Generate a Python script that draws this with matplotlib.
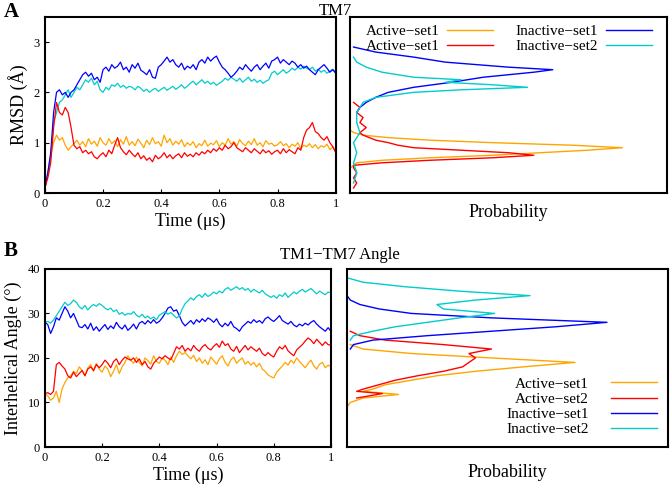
import numpy as np
import matplotlib
matplotlib.use("Agg")
import matplotlib.pyplot as plt

plt.rcParams['font.family'] = ['Liberation Serif', 'DejaVu Serif']
plt.rcParams['mathtext.fontset'] = 'stix'

time = np.linspace(0, 1, 101)

rmsd_act1 = [0.10,0.40,0.75,1.00,1.15,1.05,1.10,0.95,0.85,0.92,
0.98,1.05,0.95,1.02,0.92,1.08,0.97,1.03,0.93,1.10,
1.00,0.95,1.08,0.98,1.04,0.92,1.06,0.97,1.12,0.95,
1.02,0.94,1.07,0.99,0.90,1.05,0.96,1.10,0.98,1.02,
0.93,1.15,1.00,1.08,0.95,1.03,0.97,1.06,0.92,1.00,
0.95,1.02,0.90,0.98,0.94,1.05,0.93,0.99,0.96,1.04,
0.92,1.00,0.95,1.08,0.97,1.02,0.93,1.06,0.98,0.94,
1.03,0.96,1.08,0.95,1.00,0.92,1.04,0.97,0.99,0.93,
0.96,1.02,0.94,0.98,0.90,0.97,0.93,1.00,0.88,0.95,
0.92,0.98,0.90,0.96,0.88,0.94,0.91,0.97,0.86,0.92,0.85]
rmsd_act2 = [0.10,0.30,0.60,1.30,1.80,1.60,1.55,1.70,1.60,1.30,
0.95,0.88,0.92,0.80,0.85,0.78,0.82,0.72,0.68,0.75,
0.80,0.72,0.85,0.78,0.95,1.10,0.90,0.82,0.76,0.85,
0.78,0.72,0.80,0.68,0.74,0.65,0.70,0.62,0.75,0.68,
0.72,0.80,0.70,0.76,0.68,0.74,0.78,0.70,0.80,0.73,
0.77,0.72,0.80,0.75,0.82,0.78,0.85,0.80,0.88,0.83,
0.90,0.85,0.95,0.88,0.92,1.00,0.90,0.86,0.82,0.90,
0.85,0.80,0.88,0.83,0.78,0.86,0.80,0.84,0.77,0.82,
0.85,0.78,0.88,0.80,0.86,0.82,0.78,0.90,0.85,1.10,
1.25,1.30,1.40,1.22,1.18,1.10,1.05,1.12,1.00,0.92,0.80]
rmsd_inact1 = [0.10,0.40,0.80,1.60,2.00,2.05,1.95,2.00,1.90,2.00,
2.05,2.15,2.25,2.35,2.40,2.32,2.38,2.25,2.30,2.20,
2.45,2.50,2.42,2.55,2.48,2.52,2.60,2.45,2.50,2.40,
2.55,2.48,2.58,2.44,2.40,2.35,2.45,2.30,2.28,2.50,
2.55,2.62,2.70,2.60,2.65,2.55,2.50,2.58,2.45,2.52,
2.48,2.55,2.45,2.60,2.65,2.58,2.70,2.62,2.68,2.72,
2.60,2.50,2.45,2.38,2.30,2.35,2.42,2.50,2.45,2.55,
2.48,2.42,2.50,2.55,2.45,2.52,2.58,2.48,2.62,2.65,
2.70,2.58,2.65,2.60,2.55,2.62,2.58,2.50,2.55,2.48,
2.52,2.45,2.40,2.35,2.45,2.50,2.55,2.48,2.40,2.45,2.38]
rmsd_inact2 = [0.10,0.35,0.70,1.40,1.60,1.80,1.85,1.95,2.05,1.90,
2.00,2.10,2.05,2.15,2.25,2.20,2.28,2.15,2.22,2.05,
2.00,2.10,2.05,2.15,2.12,2.18,2.10,2.14,2.08,2.12,
2.10,2.05,2.12,2.08,2.02,2.06,2.00,2.05,2.08,2.02,
2.06,2.10,2.04,2.08,2.12,2.06,2.10,2.15,2.08,2.12,
2.18,2.22,2.15,2.20,2.25,2.18,2.22,2.16,2.20,2.14,
2.18,2.22,2.28,2.24,2.30,2.26,2.22,2.28,2.20,2.25,
2.30,2.22,2.26,2.20,2.24,2.18,2.22,2.25,2.38,2.42,
2.35,2.40,2.45,2.38,2.42,2.48,2.44,2.50,2.46,2.52,
2.48,2.45,2.50,2.42,2.46,2.40,2.44,2.38,2.42,2.46,2.40]

ang_act1 = [12.0,11.5,10.5,11.0,12.5,10.0,13.0,14.5,15.5,16.0,
17.0,16.5,18.0,17.2,16.0,17.8,18.5,17.0,18.8,17.5,
16.8,18.2,17.5,15.8,17.0,18.5,16.5,18.0,19.0,20.5,
19.5,18.8,20.2,19.0,18.2,20.0,19.4,18.6,20.5,19.2,
18.8,20.0,19.5,18.5,20.2,19.0,20.5,21.5,20.8,21.2,
20.5,19.8,20.6,19.2,20.0,18.8,19.6,18.5,20.2,19.4,
18.6,19.8,20.5,19.0,18.2,19.6,20.2,18.8,19.5,20.0,
18.6,19.2,18.4,19.0,18.0,18.8,17.5,17.0,16.2,15.8,
15.5,16.8,17.5,18.2,19.0,18.4,19.5,18.8,20.0,19.2,
18.5,17.8,18.8,19.5,18.2,17.5,18.6,19.0,17.8,18.4,18.0]
ang_act2 = [12.0,12.2,11.8,12.5,18.5,19.0,18.2,17.5,16.0,15.5,
16.8,15.8,16.5,17.2,16.0,17.5,18.0,17.2,18.5,17.8,
18.5,19.5,18.8,17.8,19.2,19.8,18.5,19.5,20.2,19.8,
19.5,20.0,19.0,19.8,18.5,19.2,18.0,17.5,18.8,19.5,
20.2,19.8,20.5,20.0,19.6,21.0,22.5,22.0,22.8,21.5,
22.2,21.6,22.8,22.0,21.5,22.5,23.0,22.2,21.8,22.6,
23.2,22.4,23.8,22.8,23.2,22.0,21.5,22.6,21.2,22.0,
22.8,21.8,22.5,22.0,21.5,22.2,21.0,20.5,21.2,20.6,
20.2,21.5,22.5,22.0,22.8,21.6,21.0,20.5,21.8,22.4,
23.0,23.8,24.5,24.0,23.2,24.2,23.5,22.8,23.6,23.0,22.8]
ang_inact1 = [28.0,27.5,25.5,27.0,29.0,28.5,30.0,31.5,30.5,29.0,
30.0,28.5,27.0,26.8,27.5,26.5,27.8,26.2,27.0,26.0,
26.8,27.5,26.4,27.2,26.6,28.0,27.0,26.5,27.4,26.2,
26.8,27.6,26.5,27.8,28.2,27.6,28.4,27.8,28.6,27.8,
28.2,29.0,30.0,31.2,31.5,30.5,30.8,29.5,28.0,27.2,
27.8,28.4,27.6,28.6,28.0,28.8,28.2,29.0,28.6,28.0,
28.8,27.6,27.0,27.8,27.2,28.2,27.0,26.6,26.0,27.0,
27.6,28.2,27.8,28.6,28.0,28.4,27.8,28.8,29.2,28.6,
28.2,28.8,29.5,28.4,28.0,27.6,28.2,27.4,27.0,27.6,
27.2,27.8,27.4,28.0,28.4,27.6,27.0,26.5,26.0,26.8,26.0]
ang_inact2 = [28.0,28.2,27.8,28.5,29.5,30.5,31.5,32.5,31.8,32.2,
33.0,32.5,31.5,31.0,31.8,30.8,31.5,32.0,31.6,32.2,
31.8,31.2,30.8,31.2,30.4,30.8,29.8,30.2,29.6,30.0,
29.8,30.4,29.6,29.2,29.8,29.0,29.4,28.8,29.2,28.6,
29.6,30.0,30.4,29.8,30.2,29.6,29.0,29.4,31.0,32.2,
32.8,33.5,33.0,33.8,34.2,33.6,34.5,33.8,34.2,34.8,
34.4,35.0,34.6,35.4,35.8,35.2,35.6,36.0,35.4,35.8,
35.2,35.6,34.8,35.4,35.0,34.6,35.2,34.4,34.0,33.6,
34.0,33.4,34.2,33.8,34.6,33.6,34.2,34.8,34.4,35.0,
35.4,34.8,35.2,35.6,35.0,34.4,35.0,34.6,34.2,34.8,34.6]

# Histograms (probability, relative scale)
hA_act1_y = [0.5,0.55,0.6,0.65,0.7,0.75,0.8,0.85,0.9,0.95,1.0,1.05,1.1,1.15,1.2,1.25]
hA_act1_p = [0.0,0.01,0.02,0.1,0.25,0.45,0.6,0.75,0.86,0.7,0.45,0.25,0.12,0.04,0.01,0.0]
hA_act2_y = [0.1,0.2,0.3,0.4,0.5,0.55,0.6,0.65,0.7,0.75,0.8,0.85,0.9,0.95,1.0,1.05,1.1,1.15,1.2,1.3,1.4,1.5,1.6,1.7,1.8]
hA_act2_p = [0.01,0.02,0.01,0.02,0.01,0.01,0.1,0.25,0.45,0.58,0.5,0.35,0.2,0.15,0.12,0.08,0.06,0.04,0.03,0.05,0.03,0.04,0.02,0.03,0.01]
hA_in1_y = [1.6,1.7,1.8,1.9,2.0,2.1,2.2,2.3,2.4,2.45,2.5,2.55,2.6,2.7,2.8,2.9]
hA_in1_p = [0.02,0.03,0.05,0.08,0.12,0.2,0.32,0.42,0.58,0.64,0.5,0.4,0.3,0.2,0.08,0.01]
hA_in2_y = [0.2,0.4,0.6,0.8,1.0,1.2,1.4,1.6,1.8,1.9,2.0,2.05,2.1,2.15,2.2,2.25,2.3,2.4,2.5,2.6,2.7]
hA_in2_p = [0.01,0.02,0.01,0.02,0.01,0.03,0.02,0.02,0.04,0.08,0.2,0.35,0.56,0.45,0.3,0.35,0.2,0.1,0.05,0.02,0.01]

hB_act1_y = [9,10,11,11.8,12.5,13,14,15,16,17,18,19,20,21,22,23]
hB_act1_p = [0.0,0.01,0.05,0.16,0.05,0.08,0.12,0.2,0.28,0.4,0.55,0.71,0.45,0.2,0.05,0.01]
hB_act2_y = [11,12,12.5,13,14,15,16,17,18,19,20,21,22,23,24,25,26]
hB_act2_p = [0.03,0.11,0.03,0.05,0.1,0.15,0.22,0.3,0.36,0.38,0.4,0.38,0.45,0.3,0.12,0.04,0.01]
hB_in1_y = [22,23,24,25,26,27,28,29,30,31,32,33,34]
hB_in1_p = [0.01,0.02,0.08,0.25,0.45,0.65,0.81,0.45,0.2,0.1,0.04,0.01,0.0]
hB_in2_y = [24,25,26,27,28,29,30,31,32,33,34,35,36,37,38]
hB_in2_p = [0.01,0.02,0.08,0.15,0.25,0.35,0.46,0.3,0.28,0.4,0.57,0.35,0.18,0.05,0.0]

C_OR, C_RED, C_BLU, C_CY = '#ffa500', '#ff0000', '#0000ff', '#00cccc'
lw_ts = 0.9

fig = plt.figure(figsize=(6.7, 4.88), dpi=100)
axA = fig.add_axes([0.067, 0.6045, 0.434, 0.361])
axAh = fig.add_axes([0.523, 0.6045, 0.472, 0.361])
axB = fig.add_axes([0.067, 0.084, 0.427, 0.365])
axBh = fig.add_axes([0.518, 0.084, 0.479, 0.365])

for ax in (axA, axAh, axB, axBh):
    for s in ax.spines.values():
        s.set_linewidth(1.5)

axA.plot(time, rmsd_act1, color=C_OR, lw=lw_ts)
axA.plot(time, rmsd_inact2, color=C_CY, lw=lw_ts)
axA.plot(time, rmsd_inact1, color=C_BLU, lw=lw_ts)
axA.plot(time, rmsd_act2, color=C_RED, lw=lw_ts)
axA.set_xlim(0, 1); axA.set_ylim(0, 3.5)
axA.set_yticks([0, 1, 2, 3])
axA.set_xticks([0, 0.2, 0.4, 0.6, 0.8, 1])
axA.set_xticklabels(['0', '0.2', '0.4', '0.6', '0.8', '1'])
axA.set_xlabel('Time (μs)', fontsize=13, labelpad=2)
axA.set_ylabel('RMSD (Å)', fontsize=13, labelpad=4)
axA.tick_params(direction='in', labelsize=9, length=3)

axAh.plot(hA_act1_p, hA_act1_y, color=C_OR, lw=1, label='Active−set1')
axAh.plot(hA_act2_p, hA_act2_y, color=C_RED, lw=1, label='Active−set1')
axAh.plot(hA_in1_p, hA_in1_y, color=C_BLU, lw=1, label='Inactive−set1')
axAh.plot(hA_in2_p, hA_in2_y, color=C_CY, lw=1, label='Inactive−set2')
axAh.set_xlim(0, 1); axAh.set_ylim(0, 3.5)
axAh.set_xticks([]); axAh.set_yticks([])
axAh.set_xlabel('Probability', fontsize=13, labelpad=8)
axAh.legend(ncol=2, loc='upper center', frameon=False, markerfirst=False,
            fontsize=11, handlelength=3, columnspacing=1.5, borderaxespad=0.1,
            labelspacing=0.1, handletextpad=0.5)

axB.plot(time, ang_act1, color=C_OR, lw=lw_ts)
axB.plot(time, ang_act2, color=C_RED, lw=lw_ts)
axB.plot(time, ang_inact1, color=C_BLU, lw=lw_ts)
axB.plot(time, ang_inact2, color=C_CY, lw=lw_ts)
axB.set_xlim(0, 1); axB.set_ylim(0, 40)
axB.set_yticks([0, 10, 20, 30, 40])
axB.set_xticks([0, 0.2, 0.4, 0.6, 0.8, 1])
axB.set_xticklabels(['0', '0.2', '0.4', '0.6', '0.8', '1'])
axB.set_xlabel('Time (μs)', fontsize=13, labelpad=2)
axB.set_ylabel('Interhelical Angle (°)', fontsize=13, labelpad=4)
axB.tick_params(direction='in', labelsize=9, length=3)

axBh.plot(hB_act1_p, hB_act1_y, color=C_OR, lw=1, label='Active−set1')
axBh.plot(hB_act2_p, hB_act2_y, color=C_RED, lw=1, label='Active−set2')
axBh.plot(hB_in1_p, hB_in1_y, color=C_BLU, lw=1, label='Inactive−set1')
axBh.plot(hB_in2_p, hB_in2_y, color=C_CY, lw=1, label='Inactive−set2')
axBh.set_xlim(0, 1); axBh.set_ylim(0, 40)
axBh.set_xticks([]); axBh.set_yticks([])
axBh.set_xlabel('Probability', fontsize=13, labelpad=12)
axBh.legend(loc='lower right', frameon=False, markerfirst=False, fontsize=11,
            handlelength=3, borderaxespad=0.3, labelspacing=0.1, handletextpad=1.5)

fig.text(0.5, 0.978, 'TM7', ha='center', va='center', fontsize=12)
fig.text(0.508, 0.477, 'TM1−TM7 Angle', ha='center', va='center', fontsize=12)
fig.text(0.005, 0.975, 'A', fontsize=15, fontweight='bold', va='center')
fig.text(0.005, 0.485, 'B', fontsize=15, fontweight='bold', va='center')

fig.savefig('out.png', dpi=100)
